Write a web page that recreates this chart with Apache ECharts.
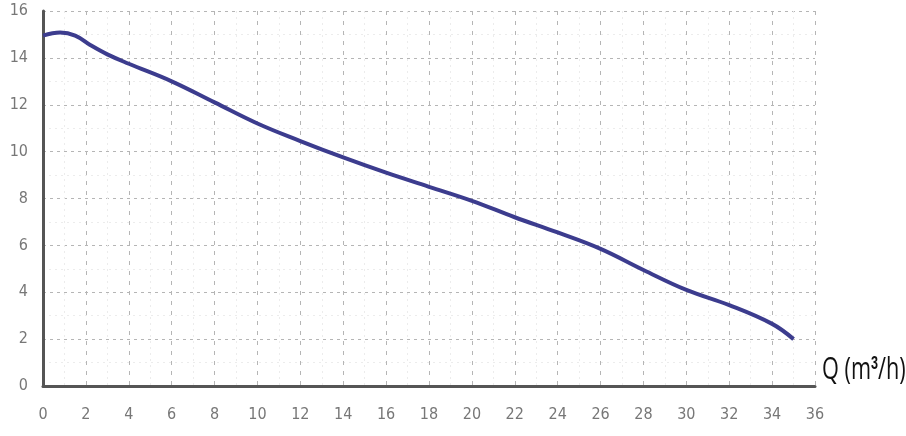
<!DOCTYPE html>
<html><head><meta charset="utf-8">
<script src="https://cdn.jsdelivr.net/npm/echarts@6/dist/echarts.min.js"></script>
<style>html,body{margin:0;padding:0;background:#fff}#c{width:906px;height:436px}</style>
</head><body><div id="c"></div>
<script>
const flowQ = [0, 0.8, 1.5, 2.2, 3, 4, 6, 8, 10, 12, 14, 16, 18, 20, 22, 24, 26, 28, 30, 32, 34, 35];
const headH = [14.95, 15.08, 14.95, 14.55, 14.15, 13.75, 13.0, 12.1, 11.2, 10.45, 9.75, 9.1, 8.5, 7.9, 7.2, 6.55, 5.85, 4.95, 4.1, 3.45, 2.65, 2.0];
const xName = 'Q (m{sup|3}/h)';
const chart = echarts.init(document.getElementById('c'));
const lblFont = "'DejaVu Sans Condensed','Liberation Sans Narrow',sans-serif";
chart.setOption({
  animation: false,
  grid: {left: 43, right: 91, top: 11, bottom: 50},
  graphic: [{
    type: 'text', left: 822, top: 355, scaleX: 0.7,
    style: {
      text: xName, fill: '#111', font: "31px 'Open Sans', sans-serif",
      rich: {sup: {fontSize: 18, fontWeight: 'bold', fill: '#111', verticalAlign: 'top', lineHeight: 12}}
    }
  }],
  xAxis: {
    type: 'value', min: 0, max: 36, interval: 2,
    axisLine: {show: true, lineStyle: {color: '#555', width: 3}},
    axisTick: {show: false},
    axisLabel: {color: '#777', fontSize: 16, fontFamily: lblFont, margin: 21},
    splitLine: {show: true, lineStyle: {color: '#b5b5b5', type: [4, 6], width: 1}},
    minorTick: {show: false, splitNumber: 2},
    minorSplitLine: {show: true, lineStyle: {color: '#ececec', type: [2, 4], width: 1}}
  },
  yAxis: {
    type: 'value', min: 0, max: 16, interval: 2,
    axisLine: {show: true, lineStyle: {color: '#555', width: 3}},
    axisTick: {show: false},
    axisLabel: {color: '#777', fontSize: 16, fontFamily: lblFont, margin: 15},
    splitLine: {show: true, lineStyle: {color: '#b5b5b5', type: [3, 4], width: 1}},
    minorTick: {show: false, splitNumber: 2},
    minorSplitLine: {show: true, lineStyle: {color: '#ececec', type: [2, 4], width: 1}}
  },
  series: [{
    type: 'line', smooth: 0.4, symbol: 'none',
    data: flowQ.map((q, i) => [q, headH[i]]),
    lineStyle: {color: '#3c3c8e', width: 4}
  }]
});
</script></body></html>
